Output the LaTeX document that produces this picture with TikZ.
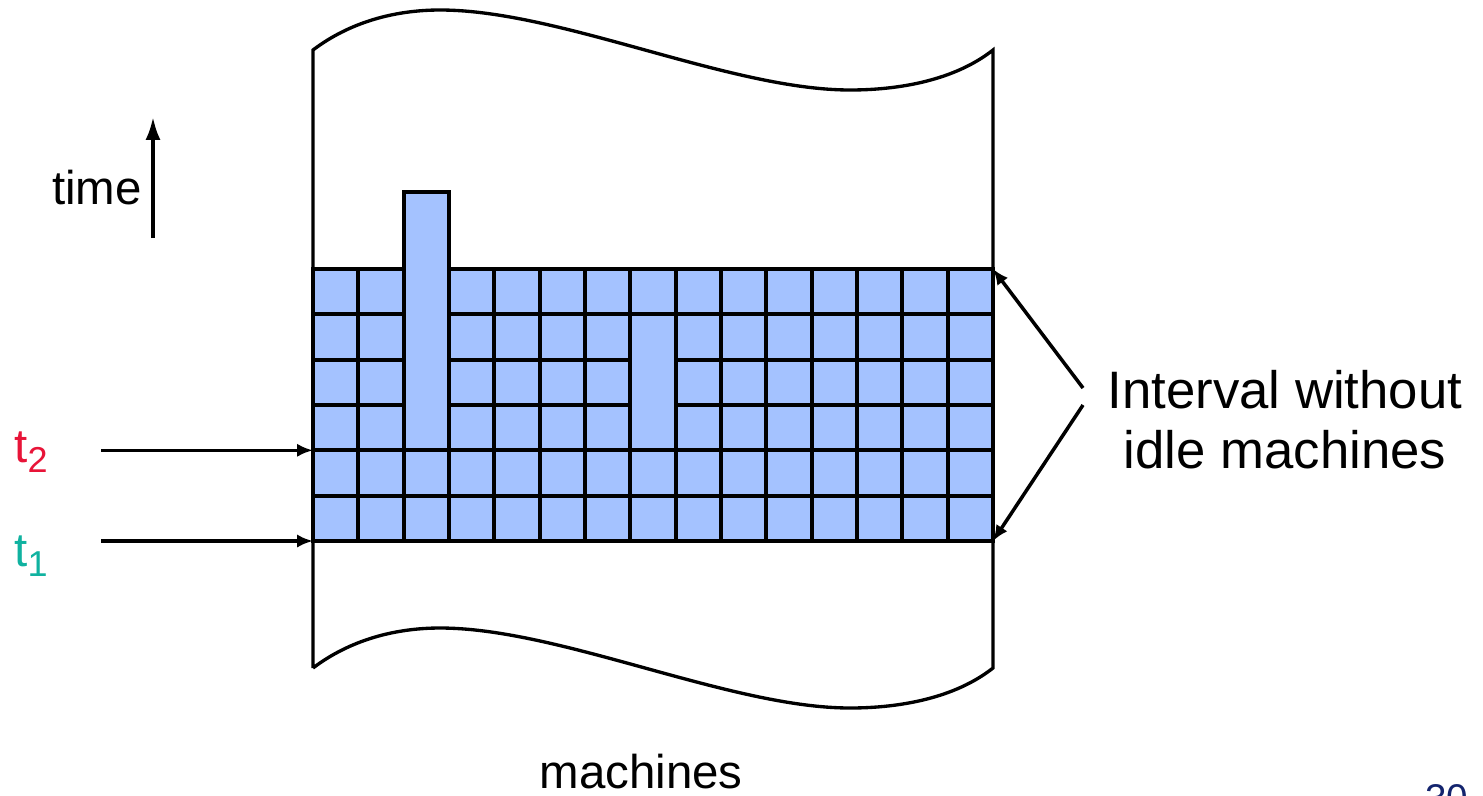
\documentclass[tikz,border=0pt]{standalone}
\usepackage{fontspec}
\setmainfont{Liberation Sans}
\usetikzlibrary{arrows.meta}
\definecolor{jobblue}{RGB}{164,194,255}
\definecolor{ttwo}{RGB}{232,20,56}
\definecolor{tone}{RGB}{16,178,160}
\definecolor{pagenum}{RGB}{20,36,110}
\tikzset{
  cell/.style={draw=black, fill=jobblue, line width=2.4pt},
  border/.style={draw=black, line width=1.9pt},
  arr/.style={line width=2pt, -{Latex[length=9pt,width=7.5pt]}},
  timearr/.style={line width=2pt, -{Latex[length=13pt,width=8.5pt]}},
  lbl/.style={inner sep=0pt, font=\fontsize{27}{32}\selectfont}
}
\newcommand{\tsub}[1]{t{\fontsize{20.5}{24}\selectfont\raisebox{-6pt}{#1}}}
\begin{document}
\begin{tikzpicture}[x=0.02cm, y=-0.02cm]
    \useasboundingbox (0,0) rectangle (1483,795);
    % machine strip with wavy ends
    \draw[border] (313,668) -- (313,50)
        .. controls (350,22) and (395,10) .. (440,10)
        .. controls (560,10) and (730,90) .. (850,90)
        .. controls (900,90) and (955,80) .. (993,50)
        -- (993,668)
        .. controls (955,698) and (900,708) .. (850,708)
        .. controls (730,708) and (560,628) .. (440,628)
        .. controls (395,628) and (350,640) .. (313,668);
    % unit jobs
    \foreach \c in {0,1,3,4,5,6,8,9,10,11,12,13,14}
        \foreach \r in {0,...,5}
            \draw[cell] (313+45.33*\c,541-45.33*\r) rectangle ++(45.33,-45.33);
    \foreach \r in {0,1}
        \draw[cell] (313+45.33*2,541-45.33*\r) rectangle ++(45.33,-45.33);
    \foreach \r in {0,1,5}
        \draw[cell] (313+45.33*7,541-45.33*\r) rectangle ++(45.33,-45.33);
    % long jobs
    \draw[cell] (403.7,450.3) rectangle (449,192);
    \draw[cell] (630.3,450.3) rectangle (675.7,314);
    % time axis
    \coordinate (tlow) at (153,238);
    \coordinate (thigh) at (153,117);
    \draw[timearr] (tlow) -- (thigh);
    \node[lbl, anchor=east] (time) at (142,188) {time};
    % t1 and t2
    \coordinate (s2) at (101,450.3);
    \coordinate (e2) at (313,450.3);
    \coordinate (s1) at (101,541);
    \coordinate (e1) at (313,541);
    \draw[arr] (s2) -- (e2);
    \draw[arr] (s1) -- (e1);
    \node[lbl, anchor=base west, text=ttwo] (t2) at (14,462) {\tsub{2}};
    \node[lbl, anchor=base west, text=tone] (t1) at (14,566) {\tsub{1}};
    % interval label
    \node[inner sep=0pt, align=center, font=\fontsize{30}{34}\selectfont]
        (interval) at (1285,420) {Interval without\\idle machines};
    \coordinate (up) at (1083,388);
    \coordinate (down) at (1083,405);
    \coordinate (ttop) at (993,269);
    \coordinate (tbot) at (993,541);
    \draw[arr] (up) -- (ttop);
    \draw[arr] (down) -- (tbot);
    % axis name and page number
    \node[lbl, anchor=base] (machines) at (641,788) {machines};
    \node[inner sep=0pt, anchor=north west, text=pagenum,
        font=\fontsize{22}{26}\selectfont] (page) at (1425,784) {30};
\end{tikzpicture}
\end{document}
